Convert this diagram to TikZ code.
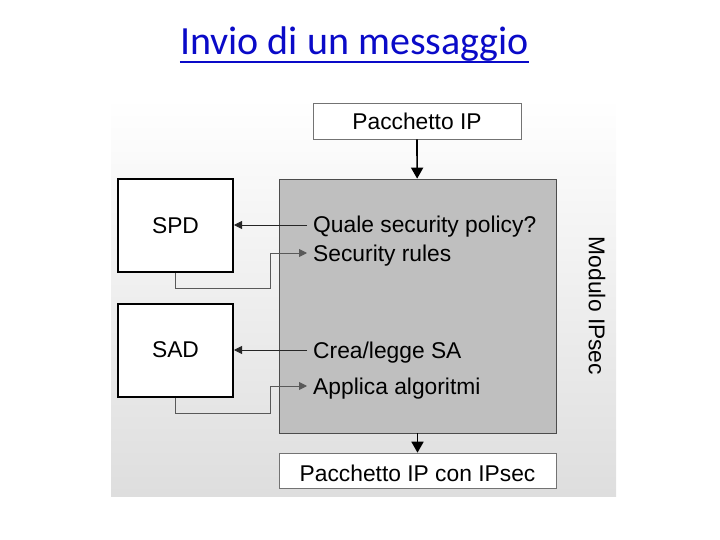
\documentclass[tikz,border=0pt]{standalone}
\usepackage{fontspec}
\setmainfont{Liberation Sans}
\newfontfamily\titlefont{Carlito}
\usepackage{tikz}
\definecolor{titleblue}{HTML}{0A0AC8}
\definecolor{modgray}{HTML}{BFBFBF}
\usetikzlibrary{positioning, arrows.meta, shapes}
\tikzstyle{bigarrow} = [line width=1.7pt,-{Triangle[length=11pt,width=12pt]}]

\begin{document}
\begin{tikzpicture}[x=1pt,y=-1pt]
                \tikzstyle{every node}=[font=\fontsize{22.8}{26}\selectfont]
                \tikzstyle{packet} = [rectangle, draw=black!55, fill=white, line width=0.6pt, inner sep=0pt]
                \tikzstyle{db} = [rectangle, draw=black, fill=white, line width=2pt, minimum width=115pt, minimum height=93pt]
                \tikzstyle{stepnode} = [anchor=west, inner xsep=6pt, inner ysep=0pt, text height=16pt, text depth=0pt]
                \tikzstyle{query} = [black!85, line width=0.8pt, -{Triangle[length=8pt,width=8pt]}]
                \tikzstyle{feed} = [black!65, line width=0.9pt, -{Triangle[length=8pt,width=8pt]}]

                \useasboundingbox (0,0) rectangle (720,540);

                % title
                \node[font=\titlefont\fontsize{40}{48}\selectfont, text=titleblue, anchor=base, inner sep=0pt](title) at (354.5,55) {Invio di un messaggio};
                \draw[titleblue, line width=2.4pt] ([yshift=-7pt]title.base west) -- ([yshift=-7pt]title.base east);

                % background
                \shade[top color=white, bottom color=black!13] (111,98) rectangle (616,496);

                \node[packet, minimum width=208pt, minimum height=36pt](in) at (417,121) {Pacchetto IP};
                \node[rectangle, draw=black!70, fill=modgray, line width=0.7pt, minimum width=277pt, minimum height=254pt](mod) at (417.5,306) {};
                \node[packet, minimum width=277pt, minimum height=35pt, text height=21pt, text depth=0pt](out) at (417.5,470.5) {Pacchetto IP con IPsec};

                \node[db](spd) at (175.5,225.5) {SPD};
                \node[db](sad) at (175.5,350) {SAD};

                \node[rotate=-90](lbl) at (597,306) {Modulo IPsec};

                % steps inside the module
                \node[stepnode](q1) at (307,225) {Quale security policy?};
                \node[stepnode](q2) at (307,253) {Security rules};
                \node[stepnode](q3) at (307,350) {Crea/legge SA};
                \node[stepnode](q4) at (307,386) {Applica algoritmi};

                % corners of the return paths
                \coordinate (k1) at (270,288);
                \coordinate (k2) at (270,413);

                \draw[bigarrow] (in) -- (mod);
                \draw[bigarrow] (mod) -- (out);

                \draw[query] (q1.west) -- (spd.east |- q1.west);
                \draw[query] (q3.west) -- (sad.east |- q3.west);
                \draw[feed] (spd.south) |- (k1) |- (q2.west);
                \draw[feed] (sad.south) |- (k2) |- (q4.west);
\end{tikzpicture}
\end{document}
